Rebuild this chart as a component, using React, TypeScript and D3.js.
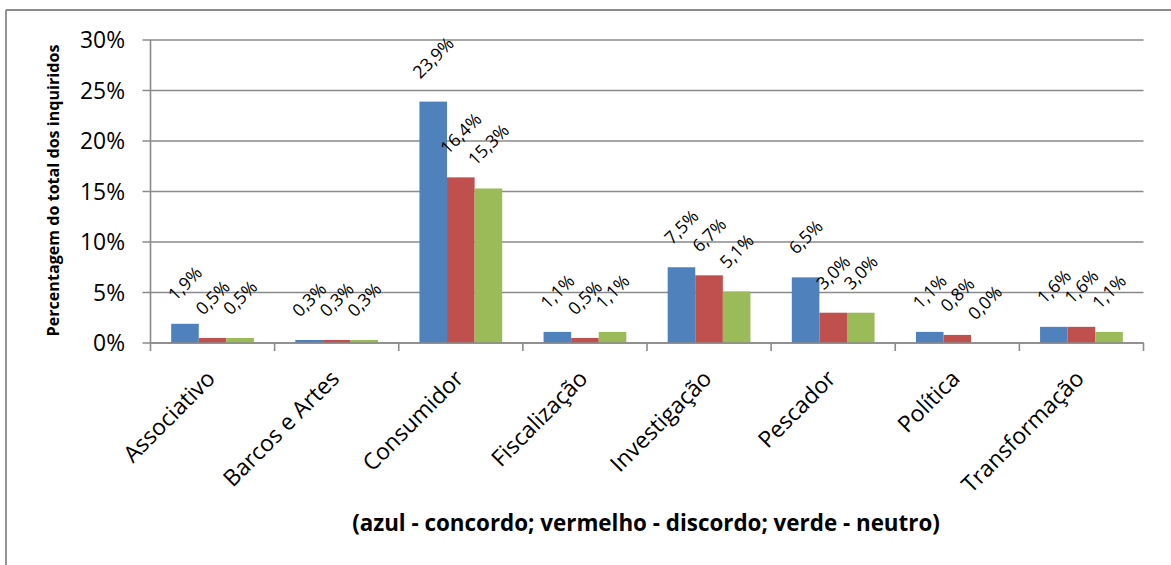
import React from "react";
import * as d3 from "d3";

const categories = [
  "Associativo",
  "Barcos e Artes",
  "Consumidor",
  "Fiscalização",
  "Investigação",
  "Pescador",
  "Política",
  "Transformação",
];
const concordo = [1.9, 0.3, 23.9, 1.1, 7.5, 6.5, 1.1, 1.6];
const discordo = [0.5, 0.3, 16.4, 0.5, 6.7, 3.0, 0.8, 1.6];
const neutro = [0.5, 0.3, 15.3, 1.1, 5.1, 3.0, 0.0, 1.1];
const seriesKeys = ["concordo", "discordo", "neutro"];
const seriesColors = ["#4F81BD", "#C0504D", "#9BBB59"];
const yTicks = [0, 5, 10, 15, 20, 25, 30];
const yTitle = "Percentagem do total dos inquiridos";
const xTitle = "(azul - concordo; vermelho - discordo; verde - neutro)";

const FONT = '"Open Sans", sans-serif';

let ctx: CanvasRenderingContext2D | null = null;
function measure(text: string, weight: string, size: number): number {
  if (!ctx) ctx = document.createElement("canvas").getContext("2d");
  if (!ctx) return text.length * size * 0.55;
  ctx.font = `${weight} ${size}px "Open Sans"`;
  return ctx.measureText(text).width;
}
function fitSize(text: string, weight: string, target: number): number {
  const w = measure(text, weight, 100);
  return (target / w) * 100;
}

const fmt = (v: number) => v.toFixed(1).replace(".", ",") + "%";

export default function App() {
  const W = 1171;
  const H = 565;
  const left = 150.5;
  const right = 1143.5;
  const top = 40;
  const bottom = 343;

  const values = [concordo, discordo, neutro];

  const x = d3.scaleBand<string>().domain(categories).range([left, right]).paddingInner(0).paddingOuter(0);
  const cw = x.bandwidth();
  const groupW = (cw * 3) / 4.5;
  const xs = d3
    .scaleBand<string>()
    .domain(seriesKeys)
    .range([(cw - groupW) / 2, (cw + groupW) / 2])
    .padding(0);
  const y = d3.scaleLinear().domain([0, 30]).range([bottom, top]);

  const tickSize = fitSize("30%", "400", 45);
  const labelEm = measure("23,9%", "400", 100) / 100;
  const labelSize = 62 / (labelEm + 0.72);
  const xTitleSize = fitSize(xTitle, "700", 588);
  const yTitleSize = fitSize(yTitle, "700", 292);

  const grid = "#8a8a8a";

  return (
    <svg
      width={W}
      height={H}
      style={{ position: "absolute", left: 0, top: 0, background: "#fff" }}
      fontFamily={FONT}
    >
      <rect x={0} y={0} width={W} height={H} fill="#fff" />
      {/* outer border */}
      <line x1={6} x2={W} y1={10} y2={10} stroke={grid} strokeWidth={1.8} />
      <line x1={6} x2={6} y1={10} y2={H} stroke={grid} strokeWidth={1.8} />

      {/* gridlines + y ticks */}
      {yTicks.map((t) => (
        <g key={t}>
          <line x1={left - 8} x2={right} y1={y(t)} y2={y(t)} stroke={grid} strokeWidth={1.6} />
          <text
            x={125}
            y={y(t)}
            dy="0.36em"
            textAnchor="end"
            fontSize={tickSize}
            fill="#000"
          >
            {t}%
          </text>
        </g>
      ))}

      {/* bars */}
      {categories.map((c, i) => (
        <g key={c} transform={`translate(${x(c)},0)`}>
          {seriesKeys.map((s, j) => {
            const v = values[j][i];
            const bx = xs(s)!;
            return (
              <rect
                key={s}
                x={bx}
                y={y(v)}
                width={xs.bandwidth()}
                height={bottom - y(v)}
                fill={seriesColors[j]}
              />
            );
          })}
        </g>
      ))}

      {/* axes */}
      <line x1={left} x2={left} y1={top} y2={bottom} stroke={grid} strokeWidth={1.6} />
      <line x1={left} x2={right} y1={bottom} y2={bottom} stroke={grid} strokeWidth={1.6} />
      {categories.map((c) => (
        <line key={c} x1={x(c)!} x2={x(c)!} y1={bottom} y2={bottom + 8} stroke={grid} strokeWidth={1.6} />
      ))}
      <line x1={right} x2={right} y1={bottom} y2={bottom + 8} stroke={grid} strokeWidth={1.6} />

      {/* data labels */}
      {categories.map((c, i) =>
        seriesKeys.map((s, j) => {
          const v = values[j][i];
          const txt = fmt(v);
          const w = measure(txt, "400", labelSize);
          const h = 0.72 * labelSize;
          const half = (w + h) / (2 * Math.SQRT2);
          const cx = x(c)! + xs(s)! + xs.bandwidth() / 2;
          const cy = y(v) - 22 - half;
          return (
            <text
              key={c + s}
              transform={`translate(${cx},${cy}) rotate(-45)`}
              textAnchor="middle"
              dy="0.36em"
              fontSize={labelSize}
              fill="#000"
            >
              {txt}
            </text>
          );
        })
      )}

      {/* category labels */}
      {categories.map((c) => (
        <text
          key={c}
          transform={`translate(${x(c)! + cw / 2 + 4},${bottom + 37}) rotate(-45)`}
          textAnchor="end"
          fontSize={tickSize}
          fill="#000"
        >
          {c}
        </text>
      ))}

      {/* titles */}
      <text
        transform={`translate(59,${(top + bottom) / 2 - 1}) rotate(-90)`}
        textAnchor="middle"
        fontWeight={700}
        fontSize={yTitleSize}
        fill="#000"
      >
        {yTitle}
      </text>
      <text
        x={646}
        y={531}
        textAnchor="middle"
        fontWeight={700}
        fontSize={xTitleSize}
        fill="#000"
      >
        {xTitle}
      </text>
    </svg>
  );
}
